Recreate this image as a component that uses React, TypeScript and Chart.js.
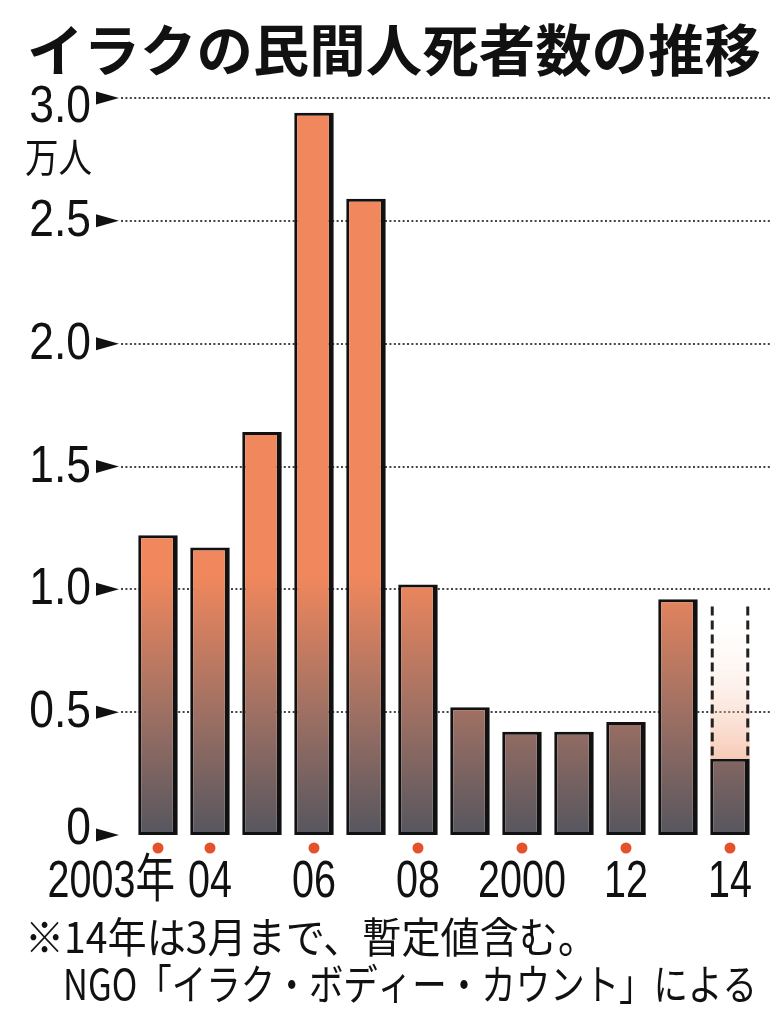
import React, { useEffect, useRef } from 'react';
import { Chart, registerables } from 'chart.js';

Chart.register(...registerables);

// ---- data (万人) ----
const categories = ['2003', '2004', '2005', '2006', '2007', '2008', '2009', '2010', '2011', '2012', '2013', '2014'];
const civilianDeaths = [1.22, 1.17, 1.64, 2.94, 2.59, 1.02, 0.52, 0.42, 0.42, 0.46, 0.96, 0.31];
const provisionalExtra = [null, null, null, null, null, null, null, null, null, null, null, 0.62];
const xTickLabels = ['2003年', '04', '', '06', '', '08', '', '2000', '', '12', '', '14'];
const markedYears = [true, true, false, true, false, true, false, true, false, true, false, true];
const yTickValues = [0, 0.5, 1.0, 1.5, 2.0, 2.5, 3.0];
const yTickLabels = ['0', '0.5', '1.0', '1.5', '2.0', '2.5', '3.0'];

const titleText = 'イラクの民間人死者数の推移';
const unitText = '万人';
const noteLine1 = '※14年は3月まで、暫定値含む。';
const noteLine2 = 'NGO「イラク・ボディー・カウント」による';

const JP = '"Noto Sans CJK JP", "Noto Sans", sans-serif';
const NUM = '"Liberation Sans", "Noto Sans CJK JP", sans-serif';

function drawScaled(ctx: CanvasRenderingContext2D, text: string, x: number, y: number, font: string, sx: number, align: 'left' | 'right' | 'center') {
  ctx.save();
  ctx.font = font;
  const w = ctx.measureText(text).width * sx;
  const left = align === 'left' ? x : align === 'right' ? x - w : x - w / 2;
  ctx.translate(left, y);
  ctx.scale(sx, 1);
  ctx.textAlign = 'left';
  ctx.textBaseline = 'middle';
  ctx.fillText(text, 0, 0);
  ctx.restore();
}

function drawFit(ctx: CanvasRenderingContext2D, text: string, left: number, y: number, width: number, font: string) {
  ctx.save();
  ctx.font = font;
  const w = ctx.measureText(text).width;
  ctx.translate(left, y);
  ctx.scale(width / w, 1);
  ctx.textAlign = 'left';
  ctx.textBaseline = 'middle';
  ctx.fillText(text, 0, 0);
  ctx.restore();
}

const decorPlugin = {
  id: 'decor',
  beforeDatasetsDraw(chart: any) {
    const ctx: CanvasRenderingContext2D = chart.ctx;
    const y = chart.scales.y;
    ctx.save();
    ctx.strokeStyle = '#444';
    ctx.lineWidth = 2;
    ctx.setLineDash([2, 2.4]);
    yTickValues.forEach((v) => {
      if (v === 0) return;
      const py = Math.round(y.getPixelForValue(v));
      ctx.beginPath();
      ctx.moveTo(121, py);
      ctx.lineTo(770, py);
      ctx.stroke();
    });
    ctx.restore();
  },
  afterDatasetsDraw(chart: any) {
    const ctx: CanvasRenderingContext2D = chart.ctx;
    const meta = chart.getDatasetMeta(1);
    meta.data.forEach((el: any, i: number) => {
      if (provisionalExtra[i] == null) return;
      const p = el.getProps(['x', 'y', 'base', 'width'], true);
      ctx.save();
      ctx.strokeStyle = '#222';
      ctx.lineWidth = 3;
      ctx.setLineDash([9, 5]);
      const l = p.x - p.width / 2 + 2;
      const r = p.x + p.width / 2 - 2;
      ctx.beginPath();
      ctx.moveTo(l, p.y);
      ctx.lineTo(l, p.base);
      ctx.moveTo(r, p.y);
      ctx.lineTo(r, p.base);
      ctx.stroke();
      ctx.restore();
    });
  },
  afterDraw(chart: any) {
    const ctx: CanvasRenderingContext2D = chart.ctx;
    const x = chart.scales.x;
    const y = chart.scales.y;
    ctx.save();
    ctx.fillStyle = '#111';

    // title
    drawFit(ctx, titleText, 27, 50, 734, `bold 56px ${JP}`);

    // y tick labels + arrow markers
    yTickValues.forEach((v, i) => {
      const py = y.getPixelForValue(v);
      let off = 0;
      if (v === 3.0) off = 9;
      if (v === 0) off = -6;
      drawScaled(ctx, yTickLabels[i], 91, py + off + 1, `51px ${NUM}`, 0.87, 'right');
      ctx.beginPath();
      ctx.moveTo(96, py - 6.5);
      ctx.lineTo(119, py);
      ctx.lineTo(96, py + 6.5);
      ctx.closePath();
      ctx.fill();
    });

    // unit
    drawFit(ctx, unitText, 25, 157, 67, `40px ${JP}`);

    // x labels + red dots
    categories.forEach((_, i) => {
      const px = x.getPixelForValue(i);
      if (markedYears[i]) {
        ctx.save();
        ctx.fillStyle = '#E4522C';
        ctx.beginPath();
        ctx.arc(px, 848, 5.5, 0, Math.PI * 2);
        ctx.fill();
        ctx.restore();
      }
      const lab = xTickLabels[i];
      if (!lab) return;
      if (i === 0) {
        drawScaled(ctx, lab, px + 17, 883, `52px ${NUM}`, 0.76, 'right');
      } else {
        drawScaled(ctx, lab, px, 883, `52px ${NUM}`, 0.76, 'center');
      }
    });

    // notes
    drawFit(ctx, noteLine1, 25, 937, 572, `42px ${JP}`);
    drawFit(ctx, noteLine2, 63, 984, 694, `42px ${JP}`);
    ctx.restore();
  },
};

export default function App() {
  const ref = useRef<HTMLCanvasElement | null>(null);

  useEffect(() => {
    if (!ref.current) return;
    const barFill = (c: any) => {
      const chart = c.chart;
      if (!chart.chartArea) return '#EF8A5E';
      const ys = chart.scales.y;
      const g = chart.ctx.createLinearGradient(0, ys.getPixelForValue(1.05), 0, ys.getPixelForValue(0));
      g.addColorStop(0, '#F0875D');
      g.addColorStop(0.5, '#A27163');
      g.addColorStop(1, '#56565F');
      return g;
    };
    const provFill = (c: any) => {
      const chart = c.chart;
      if (!chart.chartArea) return 'rgba(240,160,120,0.3)';
      const ys = chart.scales.y;
      const g = chart.ctx.createLinearGradient(0, ys.getPixelForValue(0.93), 0, ys.getPixelForValue(0.31));
      g.addColorStop(0, 'rgba(255,255,255,0)');
      g.addColorStop(1, 'rgba(240,150,110,0.5)');
      return g;
    };
    const chart = new Chart(ref.current, {
      type: 'bar',
      data: {
        labels: categories,
        datasets: [
          {
            data: civilianDeaths,
            backgroundColor: barFill,
            borderColor: '#111',
            borderWidth: { top: 3, left: 3, bottom: 3, right: 5 },
            borderSkipped: false,
            barPercentage: 0.76,
            categoryPercentage: 1,
          },
          {
            data: provisionalExtra as any,
            backgroundColor: provFill,
            borderWidth: 0,
            barPercentage: 0.76,
            categoryPercentage: 1,
          },
        ],
      },
      options: {
        responsive: false,
        animation: false,
        layout: { padding: { left: 132, right: 26, top: 98, bottom: 189 } },
        plugins: { legend: { display: false }, tooltip: { enabled: false }, title: { display: false } },
        scales: {
          x: { display: false, stacked: true },
          y: { display: false, stacked: true, min: 0, max: 3.0 },
        },
      },
      plugins: [decorPlugin],
    });
    return () => chart.destroy();
  }, []);

  return (
    <div style={{ position: 'absolute', left: 0, top: 0, width: 782, height: 1024, background: '#fff' }}>
      <canvas ref={ref} width={782} height={1024} style={{ display: 'block' }} />
    </div>
  );
}
